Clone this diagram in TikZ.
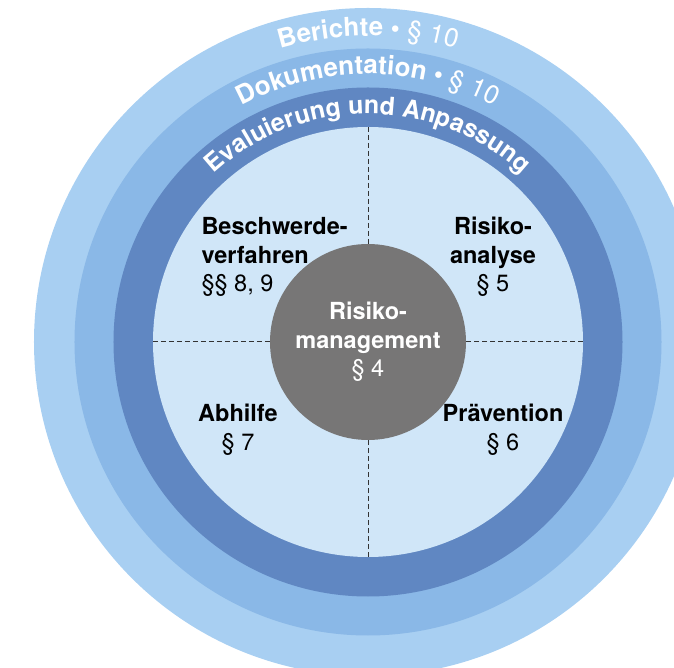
\documentclass[tikz,border=0pt]{standalone}
\usepackage{fontspec}
\setmainfont{TeX Gyre Heros}
\usetikzlibrary{decorations.text}
\definecolor{ringouter}{HTML}{A8CFF2}
\definecolor{ringmid}{HTML}{8AB8E7}
\definecolor{ringdark}{HTML}{6087C2}
\definecolor{fieldblue}{HTML}{D0E6F8}
\definecolor{riskgray}{HTML}{777676}
\begin{document}
\begin{tikzpicture}[x=1pt,y=1pt,
  lbl/.style={font=\fontsize{23.5}{28.5}\selectfont,align=center},
  ringtext/.style={decorate,decoration={text along path,text align=center,text={#1}}},
  divider/.style={draw=black!80,line width=1pt,dash pattern=on 5pt off 3pt}]
\useasboundingbox (-368,-326) rectangle (306,342);
\fill[ringouter](0,0) circle (334);
\fill[ringmid](0,0) circle (293.5);
\fill[ringdark](0,0) circle (254.5);
\node[circle,fill=fieldblue,minimum size=430,inner sep=0](field) at (0,0){};
\node[circle,fill=riskgray,minimum size=196,inner sep=0,lbl,text=white](risk) at (0,0)
  {\textbf{Risiko-}\\\textbf{management}\\§ 4};
\draw[divider](field.north)--(risk.north);
\draw[divider](field.south)--(risk.south);
\draw[divider](field.west)--(risk.west);
\draw[divider](field.east)--(risk.east);
% ring labels
\path[ringtext={|\fontsize{26}{30}\selectfont\bfseries\color{white}|Berichte • |\fontsize{26}{30}\selectfont\mdseries\color{white}|§ 10}]
  (150:306) arc (150:30:306);
\path[ringtext={|\fontsize{26}{30}\selectfont\bfseries\color{white}|Dokumentation • |\fontsize{26}{30}\selectfont\mdseries\color{white}|§ 10}]
  (150:268) arc (150:30:268);
\path[ringtext={|\fontsize{25}{30}\selectfont\bfseries\color{white}|Evaluierung und Anpassung}]
  (150:228) arc (150:30:228);
% quadrants
\node[lbl,align=left,anchor=west](complaint) at (-170,85){\textbf{Beschwerde-}\\\textbf{verfahren}\\§§ 8, 9};
\node[lbl](analysis) at (125,85){\textbf{Risiko-}\\\textbf{analyse}\\§ 5};
\node[lbl](remedy) at (-130,-88){\textbf{Abhilfe}\\§ 7};
\node[lbl](prevention) at (135,-88){\textbf{Prävention}\\§ 6};
\end{tikzpicture}
\end{document}
